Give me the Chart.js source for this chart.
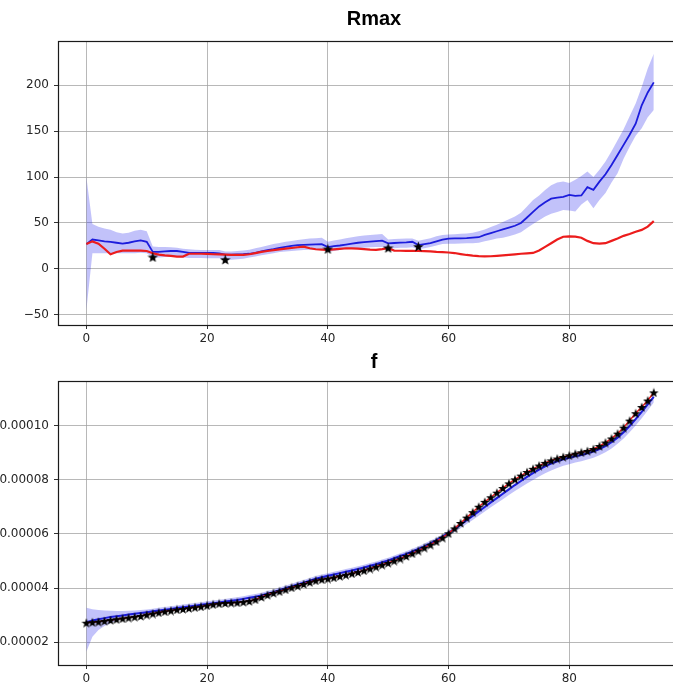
<!DOCTYPE html>
<html>
<head>
<meta charset="utf-8">
<title>Rmax / f</title>
<script src="https://cdn.jsdelivr.net/npm/chart.js@4.4.1/dist/chart.umd.min.js"></script>
<style>
  html, body { margin: 0; padding: 0; background: #fff; overflow: hidden; width: 673px; height: 684px; }
  #rmaxChart { position: absolute; left: 0; top: 0; }
  #fChart { position: absolute; left: 0; top: 345px; }
</style>
</head>
<body>
<canvas id="rmaxChart" width="690" height="345"></canvas>
<canvas id="fChart" width="690" height="339"></canvas>
<script>
// Rmax: model mean, its band, reference curve and a few measured points
const rmaxPred = [27, 32, 31, 30, 29.5, 28.5, 27.5, 28.5, 30, 31, 29.5,
  18.5, 18.5, 19, 19.5, 19.5, 18.5, 17.5, 17.5, 17.5, 17.5, 17.5, 17,
  15.5, 15.5, 15.8, 16, 16.5, 17.5, 19, 20.5, 21.5, 23, 24, 25, 25.8, 26.2, 26.5, 26.8, 27,
  23.8, 24.8, 25.5, 26.5, 27.5, 28.5, 29.2, 29.8, 30.3, 30.8,
  27.9, 28.2, 28.6, 29, 29.6, 26, 27, 28, 30, 32,
  33, 33.2, 33.2, 33.5, 34, 34.5, 37, 39, 41, 43,
  45, 47, 50, 56, 62, 68, 72.5, 76.5, 77.5, 78.5,
  80.5, 79.5, 80, 89, 86, 95, 103, 113, 124, 135,
  146, 158, 178, 192, 203];
const rmaxUpper = [100, 49, 46, 44, 42.5, 40, 38.5, 39.5, 41.5, 42.5, 41,
  24.5, 24, 24, 23.5, 23, 22, 21.5, 21, 20.5, 20.5, 20.5, 20.5,
  19, 19, 19.5, 20, 20.8, 22.5, 24, 25.5, 27, 28.3, 29.5, 30.5, 31.5, 32.3, 33, 33.3, 34,
  29.6, 31, 32, 33.5, 34.5, 35.5, 36.3, 37, 37.5, 38,
  32, 32.5, 32.8, 33, 33.2, 30.7, 32, 33.5, 35.5, 36.8,
  37.5, 37.8, 38.2, 38.6, 39.5, 40.9, 43, 45.5, 48, 51,
  54, 57, 61, 68, 75, 80, 86, 91, 94, 95,
  93.5, 97, 101, 106, 100, 108, 117, 128, 140, 152,
  166, 180, 198, 218, 234];
const rmaxLower = [-45, 17, 17, 17, 17, 17, 17, 17, 17, 17.5, 17,
  12.5, 12.5, 13, 13, 13, 12.5, 12, 12, 12, 11.5, 11.5, 11.5,
  10, 10, 10.5, 11, 12.5, 13.5, 15, 16, 17, 18.3, 19, 19.5, 20, 20.5, 20.8, 21, 21,
  18.5, 19.5, 20.5, 21.5, 22, 22.5, 23, 23.5, 24, 24,
  22, 22.5, 23, 23, 23.5, 21.4, 22.5, 24, 25.5, 27,
  27.5, 27.5, 27.8, 28, 28, 28.5, 30, 31.5, 33, 34,
  35.5, 37.5, 40, 44.5, 49, 53, 57, 60, 62, 64,
  63.5, 62.6, 70, 75, 66, 75, 82.5, 94, 104, 120,
  133, 145, 153, 165, 173];
const rmaxRef = [27, 30, 27.5, 22, 16, 18.5, 20, 20, 20, 20, 19.5,
  17, 15.5, 14.8, 14.3, 13.5, 13.5, 16.5, 16.5, 16.5, 16.3,
  16, 15.8, 15.5, 15.2, 15.2, 15.3, 16, 17.2, 18.5, 19.5,
  20.5, 21.2, 22, 22.8, 23.6, 24.3, 22.5, 21.4, 21, 20.7,
  21.2, 21.8, 22.5, 22.3, 22, 21.5, 21, 20.7, 21.5, 22.5,
  20, 19.8, 19.7, 19.6, 19.5, 19.3, 19, 18.5, 18.2, 17.9,
  17.3, 16.2, 15.2, 14.5, 14, 13.7, 13.8, 14.2, 14.7, 15.2,
  15.8, 16.5, 17, 17.4, 20, 24, 28, 32, 35, 35.5,
  35.2, 34, 30.5, 28, 27.5, 28, 30.5, 33, 36, 38,
  40.5, 42.5, 46, 52];
const rmaxObsX = [11, 23, 40, 50, 55];
const rmaxObsY = [13, 10.2, 21.8, 23, 24.5];

// f, stored in units of 1e-5
const fObs = [2.72, 2.74, 2.76, 2.79, 2.82, 2.85, 2.88, 2.91, 2.94, 2.97,
  3.02, 3.06, 3.10, 3.14, 3.17, 3.21, 3.23, 3.26, 3.29, 3.32,
  3.36, 3.40, 3.43, 3.45, 3.46, 3.47, 3.49, 3.52, 3.58, 3.67,
  3.75, 3.82, 3.88, 3.95, 4.02, 4.08, 4.15, 4.22, 4.28, 4.32,
  4.35, 4.39, 4.44, 4.49, 4.54, 4.59, 4.65, 4.72, 4.79, 4.86,
  4.93, 5.01, 5.09, 5.18, 5.28, 5.38, 5.49, 5.60, 5.72, 5.86,
  6.02, 6.20, 6.40, 6.60, 6.80, 7.00, 7.18, 7.35, 7.52, 7.69,
  7.86, 8.01, 8.15, 8.28, 8.40, 8.52, 8.62, 8.71, 8.78, 8.84,
  8.90, 8.96, 9.01, 9.06, 9.13, 9.24, 9.37, 9.52, 9.70, 9.92,
  10.18, 10.45, 10.68, 10.92, 11.22];
const fPred = [2.74, 2.80, 2.85, 2.89, 2.93, 2.96, 2.99, 3.02, 3.05, 3.08,
  3.11, 3.14, 3.17, 3.20, 3.23, 3.26, 3.29, 3.32, 3.35, 3.38,
  3.41, 3.44, 3.47, 3.50, 3.53, 3.56, 3.60, 3.64, 3.68, 3.73,
  3.79, 3.85, 3.92, 3.99, 4.06, 4.13, 4.20, 4.27, 4.34, 4.40,
  4.45, 4.50, 4.55, 4.60, 4.65, 4.70, 4.76, 4.82, 4.88, 4.95,
  5.02, 5.10, 5.18, 5.26, 5.35, 5.44, 5.54, 5.65, 5.77, 5.90,
  6.04, 6.18, 6.34, 6.50, 6.66, 6.83, 6.99, 7.16, 7.32, 7.48,
  7.64, 7.80, 7.95, 8.10, 8.24, 8.37, 8.49, 8.59, 8.68, 8.75,
  8.81, 8.86, 8.91, 8.97, 9.04, 9.13, 9.24, 9.38, 9.55, 9.75,
  9.98, 10.23, 10.50, 10.78, 11.05];
const fUpper = [3.27, 3.22, 3.19, 3.17, 3.16, 3.15, 3.15, 3.16, 3.17, 3.19,
  3.21, 3.24, 3.27, 3.30, 3.33, 3.36, 3.39, 3.42, 3.45, 3.48,
  3.51, 3.54, 3.57, 3.60, 3.63, 3.66, 3.70, 3.74, 3.78, 3.83,
  3.89, 3.95, 4.02, 4.09, 4.16, 4.23, 4.30, 4.37, 4.44, 4.50,
  4.55, 4.60, 4.65, 4.70, 4.75, 4.80, 4.86, 4.92, 4.98, 5.05,
  5.12, 5.20, 5.28, 5.36, 5.45, 5.54, 5.64, 5.75, 5.86, 5.98,
  6.11, 6.25, 6.41, 6.57, 6.73, 6.90, 7.06, 7.23, 7.39, 7.55,
  7.71, 7.87, 8.02, 8.17, 8.31, 8.44, 8.56, 8.66, 8.75, 8.82,
  8.88, 8.93, 8.98, 9.04, 9.11, 9.20, 9.31, 9.45, 9.62, 9.82,
  10.05, 10.30, 10.57, 10.85, 11.12];
const fLower = [1.65, 2.20, 2.45, 2.60, 2.70, 2.78, 2.84, 2.89, 2.93, 2.97,
  3.01, 3.04, 3.07, 3.10, 3.13, 3.16, 3.19, 3.22, 3.25, 3.28,
  3.31, 3.34, 3.37, 3.40, 3.43, 3.46, 3.50, 3.54, 3.58, 3.63,
  3.69, 3.75, 3.82, 3.89, 3.96, 4.03, 4.10, 4.17, 4.24, 4.30,
  4.35, 4.40, 4.45, 4.50, 4.55, 4.60, 4.66, 4.72, 4.78, 4.85,
  4.92, 5.00, 5.08, 5.16, 5.25, 5.34, 5.44, 5.55, 5.67, 5.80,
  5.94, 6.07, 6.21, 6.36, 6.51, 6.67, 6.82, 6.98, 7.13, 7.28,
  7.43, 7.58, 7.72, 7.86, 7.99, 8.12, 8.24, 8.34, 8.43, 8.51,
  8.57, 8.63, 8.68, 8.74, 8.81, 8.90, 9.01, 9.15, 9.32, 9.52,
  9.75, 10.00, 10.27, 10.55, 10.85];

const steps = rmaxPred.map((_, i) => i);
const xTicks = [0, 20, 40, 60, 80];

const BLUE = '#1c1cdc';
const RED = '#ec1c1c';
const BAND = 'rgba(20, 20, 235, 0.26)';
const GRID = 'rgba(160,160,160,0.75)';

Chart.defaults.font.family = "'DejaVu Sans', sans-serif";
Chart.defaults.font.size = 12;
Chart.defaults.color = '#262626';

// filled five-point star, used as the marker image
function starImage(size) {
  const c = document.createElement('canvas');
  c.width = c.height = size;
  const g = c.getContext('2d');
  const r = size / 2, ri = r * 0.42;
  g.beginPath();
  for (let k = 0; k < 10; k++) {
    const rad = k % 2 ? ri : r;
    const a = -Math.PI / 2 + k * Math.PI / 5;
    g.lineTo(r + rad * Math.cos(a), r + 0.6 + rad * Math.sin(a));
  }
  g.closePath();
  g.fillStyle = '#000';
  g.fill();
  return c;
}

function pts(xs, ys) {
  return ys.map((y, i) => ({ x: xs[i], y }));
}

// box around the plotting area
const frame = {
  id: 'frame',
  afterDatasetsDraw(chart) {
    const { left, top, right, bottom } = chart.chartArea;
    const ctx = chart.ctx;
    ctx.save();
    ctx.strokeStyle = '#1a1a1a';
    ctx.lineWidth = 1.2;
    ctx.strokeRect(Math.round(left) + 0.5, Math.round(top) + 0.5,
      Math.round(right - left), Math.round(bottom - top));
    ctx.restore();
  }
};

function makeOptions(title, titlePad, yMin, yMax, yStep, yFmt, xAxisHeight) {
  return {
    responsive: false,
    animation: false,
    events: [],
    layout: { autoPadding: false, padding: 0 },
    plugins: {
      legend: { display: false },
      tooltip: { enabled: false },
      title: {
        display: true,
        text: title,
        fullSize: false,
        color: '#000',
        font: { family: "'Liberation Sans', Arial, sans-serif", size: 20, weight: 'bold' },
        padding: titlePad
      }
    },
    scales: {
      x: {
        type: 'linear',
        min: -4.7,
        max: 100,
        afterFit(scale) { scale.height = xAxisHeight; },
        afterBuildTicks(scale) { scale.ticks = xTicks.map(v => ({ value: v })); },
        ticks: { padding: 3, maxRotation: 0 },
        border: { display: false },
        grid: { color: GRID, lineWidth: 1, tickLength: 4, tickColor: '#333' }
      },
      y: {
        min: yMin,
        max: yMax,
        afterFit(scale) { scale.width = 58; },
        ticks: { stepSize: yStep, includeBounds: false, padding: 5, callback: yFmt },
        border: { display: false },
        grid: { color: GRID, lineWidth: 1, tickLength: 4, tickColor: '#333' }
      }
    }
  };
}

new Chart(document.getElementById('rmaxChart'), {
  type: 'line',
  data: {
    datasets: [
      { data: pts(rmaxObsX, rmaxObsY), showLine: false, pointStyle: starImage(11),
        pointRadius: 5, order: 0 },
      { data: pts(steps, rmaxRef), borderColor: RED, borderWidth: 2.2, pointRadius: 0, order: 1 },
      { data: pts(steps, rmaxPred), borderColor: BLUE, borderWidth: 1.8, pointRadius: 0, order: 2 },
      { data: pts(steps, rmaxUpper), borderWidth: 0, pointRadius: 0, fill: '+1',
        backgroundColor: BAND, order: 3 },
      { data: pts(steps, rmaxLower), borderWidth: 0, pointRadius: 0, fill: false, order: 4 }
    ]
  },
  options: makeOptions('Rmax', { top: 7, bottom: 10 }, -61, 248, 50,
    v => (v < 0 ? '\u2212' + Math.abs(v) : String(v)), 20),
  plugins: [frame]
});

new Chart(document.getElementById('fChart'), {
  type: 'line',
  data: {
    datasets: [
      { data: pts(steps, fObs), showLine: false, pointStyle: starImage(10),
        pointRadius: 5, order: 0 },
      { data: pts(steps, fObs), borderColor: RED, borderWidth: 1.5, pointRadius: 0, order: 1 },
      { data: pts(steps, fPred), borderColor: BLUE, borderWidth: 2, pointRadius: 0, order: 2 },
      { data: pts(steps, fUpper), borderWidth: 0, pointRadius: 0, fill: '+1',
        backgroundColor: BAND, order: 3 },
      { data: pts(steps, fLower), borderWidth: 0, pointRadius: 0, fill: false, order: 4 }
    ]
  },
  options: makeOptions('f', { top: 5, bottom: 7 }, 1.16, 11.64, 2, v => (v * 1e-5).toFixed(5), 19),
  plugins: [frame]
});
</script>
</body>
</html>
